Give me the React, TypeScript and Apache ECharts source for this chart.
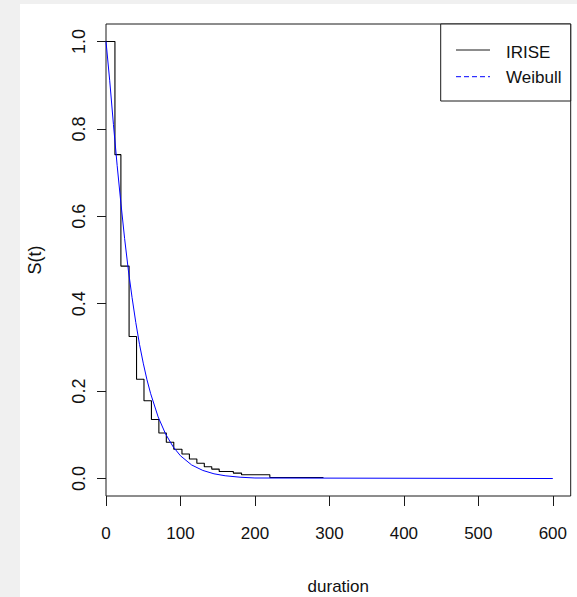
import React, { useEffect, useRef } from "react";
import * as echarts from "echarts";

// Kaplan-Meier (IRISE) step curve: time at which the value starts, survival value
const kmTimes = [0, 12, 20, 31, 41, 51, 61, 71, 81, 91, 102, 112, 122, 132, 142, 152, 171, 182, 220, 292];
const kmSurv = [1.0, 0.741, 0.486, 0.325, 0.227, 0.178, 0.135, 0.104, 0.083, 0.067, 0.056, 0.0445, 0.035, 0.027, 0.0216, 0.016, 0.0124, 0.0085, 0.0023, 0.0023];

// Weibull fitted curve
const weibullTimes = [0, 5, 10, 15, 20, 25, 30, 35, 40, 45, 50, 55, 60, 70, 80, 90, 100, 115, 130, 145, 160, 180, 200, 600];
const weibullSurv = [1.0, 0.91, 0.81, 0.716, 0.63, 0.549, 0.477, 0.414, 0.357, 0.307, 0.264, 0.226, 0.194, 0.141, 0.102, 0.073, 0.052, 0.031, 0.0185, 0.0108, 0.0063, 0.003, 0.0012, 0.0];

const xTicks = [0, 100, 200, 300, 400, 500, 600];
const yTicks = [0, 0.2, 0.4, 0.6, 0.8, 1.0];
const seriesNames = ["IRISE", "Weibull"];
const xTitle = "duration";
const yTitle = "S(t)";

export default function App() {
  const ref = useRef<HTMLDivElement>(null);
  useEffect(() => {
    document.body.style.margin = "0";
    document.body.style.background = "#f0f0f0";
    const chart = echarts.init(ref.current!, null, { renderer: "svg" });
    const font = "'Liberation Sans', Arial, Helvetica, sans-serif";
    const ink = "#1a1a1a";
    chart.setOption({
      animation: false,
      backgroundColor: "#ffffff",
      grid: {
        left: 86,
        top: 20,
        width: 464.7,
        height: 472,
        show: true,
        borderColor: ink,
        borderWidth: 1,
        backgroundColor: "transparent",
      },
      xAxis: {
        type: "value",
        min: 0,
        max: 624,
        axisLine: { show: false, onZero: false },
        splitLine: { show: false },
        axisTick: { show: true, length: 10, customValues: xTicks, lineStyle: { color: ink, width: 1 } },
        axisLabel: {
          customValues: xTicks,
          margin: 29,
          fontSize: 17,
          color: "#111",
          fontFamily: font,
        },
      },
      yAxis: {
        type: "value",
        min: -0.04,
        max: 1.04,
        axisLine: { show: false, onZero: false },
        splitLine: { show: false },
        axisTick: { show: true, length: 9, customValues: yTicks, lineStyle: { color: ink, width: 1 } },
        axisLabel: {
          customValues: yTicks,
          rotate: 90,
          align: "center",
          verticalAlign: "bottom",
          margin: 18,
          fontSize: 18,
          color: "#111",
          fontFamily: font,
          formatter: (v: number) => v.toFixed(1),
        },
      },
      series: [
        {
          name: seriesNames[0],
          type: "line",
          step: "end",
          showSymbol: false,
          data: kmTimes.map((t, i) => [t, kmSurv[i]]),
          lineStyle: { color: "#000000", width: 1.1 },
          itemStyle: { color: "#000000" },
          z: 2,
        },
        {
          name: seriesNames[1],
          type: "line",
          smooth: false,
          showSymbol: false,
          data: weibullTimes.map((t, i) => [t, weibullSurv[i]]),
          lineStyle: { color: "#0000ff", width: 1 },
          itemStyle: { color: "#0000ff" },
          z: 3,
        },
      ],
      graphic: [
        {
          type: "text",
          x: 318.3,
          y: 582,
          style: {
            text: xTitle,
            fontSize: 17,
            fontFamily: font,
            fill: "#111",
            align: "center",
            verticalAlign: "middle",
          },
        },
        {
          type: "text",
          x: 15,
          y: 256,
          rotation: Math.PI / 2,
          style: {
            text: yTitle,
            fontSize: 18,
            fontFamily: font,
            fill: "#111",
            align: "center",
            verticalAlign: "middle",
          },
        },
        {
          type: "group",
          z: 100,
          children: [
            {
              type: "rect",
              shape: { x: 420.7, y: 20, width: 130, height: 77 },
              style: { fill: "#ffffff", stroke: ink, lineWidth: 1 },
            },
            {
              type: "line",
              shape: { x1: 436, y1: 46, x2: 470, y2: 46 },
              style: { stroke: ink, lineWidth: 1 },
            },
            {
              type: "line",
              shape: { x1: 436, y1: 72.7, x2: 470, y2: 72.7 },
              style: { stroke: "#0000ff", lineWidth: 1, lineDash: [5, 3] },
            },
            {
              type: "text",
              x: 486,
              y: 48.5,
              style: {
                text: seriesNames[0],
                fontSize: 17,
                fontFamily: font,
                fill: "#111",
                align: "left",
                verticalAlign: "middle",
              },
            },
            {
              type: "text",
              x: 486,
              y: 73.5,
              style: {
                text: seriesNames[1],
                fontSize: 17,
                fontFamily: font,
                fill: "#111",
                align: "left",
                verticalAlign: "middle",
              },
            },
          ],
        },
      ],
    });
    return () => chart.dispose();
  }, []);
  return (
    <div style={{ position: "fixed", left: 0, top: 0, width: 577, height: 597, background: "#f0f0f0" }}>
      <div ref={ref} style={{ position: "absolute", left: 20, top: 4, width: 557, height: 593 }} />
    </div>
  );
}
